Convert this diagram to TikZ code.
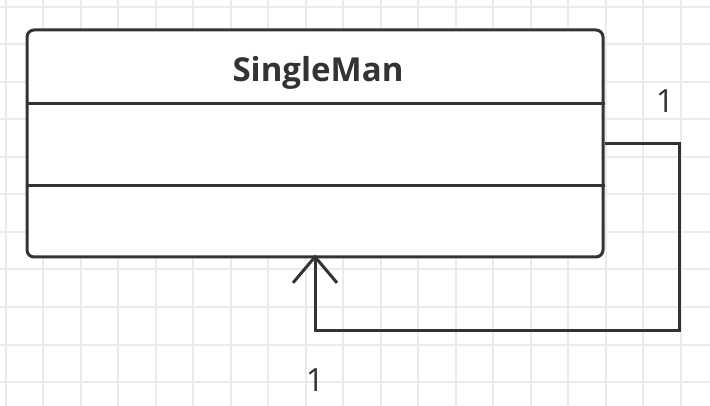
\documentclass[tikz,border=0pt]{standalone}
\usepackage{fontspec}
\setmainfont{Open Sans}
\usetikzlibrary{arrows.meta}
\definecolor{umlline}{HTML}{333333}
\definecolor{gridgray}{HTML}{EBEBEB}
\begin{document}
\begin{tikzpicture}[x=1pt,y=-1pt,
		umlbox/.style={draw=umlline,line width=3pt,rounded corners=7pt,minimum width=576pt,minimum height=227pt,inner sep=0pt},
		assoc/.style={draw=umlline,line width=3pt,-{Straight Barb[length=26pt,width=44pt,line width=3pt]}},
		mult/.style={text=umlline,font=\fontsize{32}{36}\selectfont}]
			\useasboundingbox (0,0) rectangle (710,406);
			\fill[white] (0,0) rectangle (710,406);
			\foreach \i in {0,...,18} \draw[gridgray,line width=2pt] (5.5+37.5*\i,0) -- (5.5+37.5*\i,406);
			\foreach \j in {0,...,10} \draw[gridgray,line width=2pt] (0,7+37.5*\j) -- (710,7+37.5*\j);
			\node[umlbox,fill=white] (singleman) at (315,143.5) {};
			\node[text=umlline,font=\fontsize{33}{38}\selectfont\bfseries] (title) at (318,73) {SingleMan};
			\draw[umlline,line width=3pt] (singleman.west |- 0,104) -- (singleman.east |- 0,104);
			\draw[umlline,line width=3pt] (singleman.west |- 0,186) -- (singleman.east |- 0,186);
			\coordinate (bend) at (679,330);
			\draw[assoc] (singleman.east) -| (bend) -| ([yshift=4pt]singleman.south);
			\node[mult] (multtop) at (665,101) {1};
			\node[mult] (multbot) at (315,380) {1};
		\end{tikzpicture}
\end{document}
